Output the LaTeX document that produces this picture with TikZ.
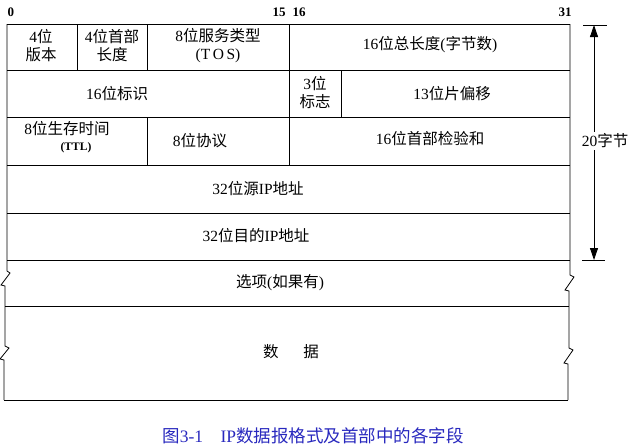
\documentclass[tikz,border=0pt]{standalone}
\usepackage{fontspec}
\setmainfont{Liberation Serif}
\newfontfamily\cjk{Noto Sans CJK SC}
\usepackage{tikz}
\usetikzlibrary{arrows.meta}
\newcommand{\zh}[1]{{\cjk #1}}
\definecolor{capblue}{RGB}{40,40,190}
\tikzset{
	field/.style={inner sep=0pt, align=center, font=\fontsize{15.5}{18}\selectfont},
	bitno/.style={inner sep=0pt, font=\fontsize{13}{14}\selectfont\bfseries},
	rule/.style={line width=0.8pt}
}

\begin{document}
\begin{tikzpicture}[x=1pt, y=-1pt]
		\useasboundingbox (0,0) rectangle (638,447);
		% bit numbers
		\node[bitno] (b0) at (11,12) {0};
		\node[bitno] (b15) at (279,12) {15};
		\node[bitno] (b16) at (299,12) {16};
		\node[bitno] (b31) at (565,12) {31};
		% rows
		\draw[rule] (7,24) -- (570,24);
		\draw[rule] (7,70) -- (570,70);
		\draw[rule] (7,117) -- (570,117);
		\draw[rule] (7,165) -- (570,165);
		\draw[rule] (7,213) -- (570,213);
		\draw[rule] (7,260) -- (570,260);
		\draw[rule] (5,306) -- (569,306);
		\draw[rule] (4,400) -- (568,400);
		% columns
		\draw[rule] (77,24) -- (77,70);
		\draw[rule] (147,24) -- (147,70);
		\draw[rule] (289,24) -- (289,165);
		\draw[rule] (341,70) -- (341,117);
		\draw[rule] (147,117) -- (147,165);
		% side edges with breaks
		\draw[rule] (7,24) -- (7,271) -- (10,273) -- (1,285) -- (5,286)
			-- (5,346) -- (9,348) -- (0,359) -- (4,360) -- (4,400);
		\draw[rule] (570,24) -- (570,275) -- (574,277) -- (565,290) -- (569,291)
			-- (569,348) -- (573,350) -- (564,363) -- (568,364) -- (568,400);
		% fields
		\node[field] (ver) at (41,46) {4\zh{位}\\\zh{版本}};
		\node[field] (hlen) at (112,46) {4\zh{位首部}\\\zh{长度}};
		\node[field] (tos) at (218,46) {8\zh{位服务类型}\\(T\,O\,S)};
		\node[field] (tlen) at (430,45) {16\zh{位总长度}(\zh{字节数})};
		\node[field] (ident) at (117,94) {16\zh{位标识}};
		\node[field] (flags) at (315,93) {3\zh{位}\\\zh{标志}};
		\node[field] (foff) at (452,94) {13\zh{位片偏移}};
		\node[field] (ttl) at (67,129) {8\zh{位生存时间}};
		\node[bitno, font=\fontsize{11.5}{12}\selectfont\bfseries] (ttlb) at (76,148) {(TTL)};
		\node[field] (proto) at (200,141) {8\zh{位协议}};
		\node[field] (hsum) at (430,139) {16\zh{位首部检验和}};
		\node[field] (src) at (258,189) {32\zh{位源}IP\zh{地址}};
		\node[field] (dst) at (256,236) {32\zh{位目的}IP\zh{地址}};
		\node[field] (opt) at (280,283) {\zh{选项}(\zh{如果有})};
		\node[field] (data) at (291,352) {\zh{数}\hspace{1.6em}\zh{据}};
		% header size
		\coordinate (htop) at (594,25);
		\coordinate (hbot) at (594,260);
		\draw[rule] (583,25) -- (607,25);
		\draw[rule] (582,260) -- (605,260);
		\draw[rule, {Triangle[length=12pt,width=8pt]}-{Triangle[length=12pt,width=8pt]}] (htop) -- (hbot);
		\node[field, fill=white, inner sep=2pt] (hsize) at (605,141) {20\zh{字节}};
		% caption
		\node[field, text=capblue, font=\fontsize{17.5}{20}\selectfont] (cap) at (313,436)
			{\zh{图}3-1\hspace{1em}IP\zh{数据报格式及首部中的各字段}};
	\end{tikzpicture}
\end{document}
